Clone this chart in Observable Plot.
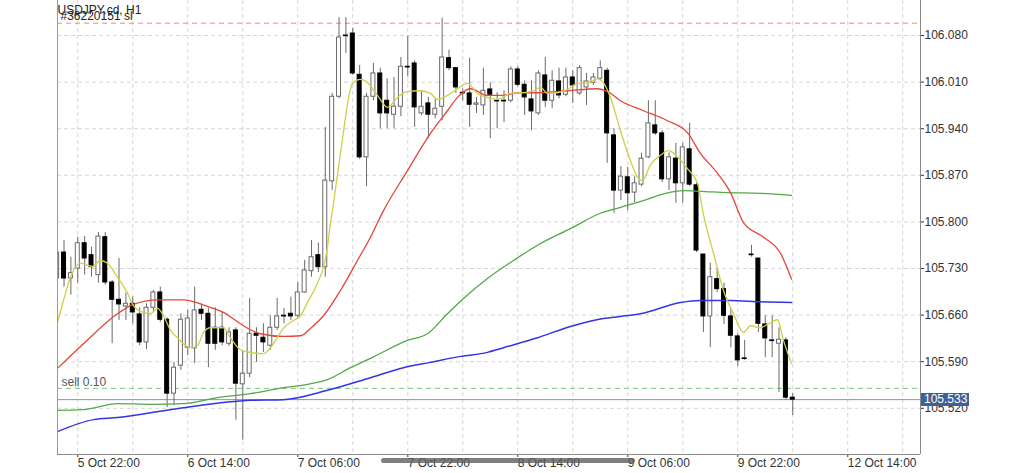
<!DOCTYPE html>
<html><head><meta charset="utf-8">
<script src="https://cdn.jsdelivr.net/npm/d3@7"></script>
<script src="https://cdn.jsdelivr.net/npm/@observablehq/plot@0.6"></script>
<style>
html,body{margin:0;padding:0;background:#fff;}
#wrap{position:relative;width:1024px;height:473px;overflow:hidden;font-family:"Liberation Sans",Arial,sans-serif;}
#wrap svg{position:absolute;left:0;top:0;}
.pricebox{position:absolute;background:#3f6196;color:#fff;font-size:12px;line-height:13px;height:13px;padding-left:3px;box-sizing:border-box;white-space:nowrap;}
.scroll{position:absolute;background:rgba(95,95,95,0.8);border-radius:3px;}
</style></head><body><div id="wrap"></div>
<script>
// ---- data (H1 bars; index 0 = 5 Oct 22:00) ----
const startIndex = -3;
const open = [
105.715,105.754,105.715,105.730,105.768,105.750,105.720,105.777,105.709,105.683,
105.673,105.677,105.661,105.619,105.671,105.694,105.653,105.542,105.584,105.611,
105.610,105.668,105.662,105.641,105.641,105.617,105.637,105.556,105.572,105.632,
105.626,105.614,105.641,105.659,105.662,105.659,105.694,105.726,105.750,105.732,
105.861,105.988,106.080,106.083,106.021,105.897,105.988,106.023,105.982,105.961,
105.973,106.033,106.038,105.963,105.978,105.961,105.973,106.046,106.031,105.994,
105.993,105.976,105.975,105.999,105.982,105.982,105.982,106.029,106.006,105.984,
105.963,106.020,105.982,106.011,105.991,106.017,105.993,106.002,106.009,106.015,
106.027,105.930,105.847,105.867,105.844,105.856,105.897,105.945,105.933,105.864,
105.895,105.858,105.909,105.855,105.751,105.658,105.714,105.699,105.658,105.628,
105.595,105.751,105.745,105.646,105.622,105.617,105.622,105.536];
const high = [
105.760,105.772,105.747,105.777,105.778,105.762,105.784,105.784,105.712,105.745,
105.693,105.687,105.671,105.677,105.697,105.702,105.656,105.589,105.662,105.667,
105.702,105.677,105.670,105.671,105.664,105.641,105.641,105.607,105.685,105.641,
105.647,105.659,105.685,105.670,105.687,105.709,105.742,105.772,105.768,105.942,
105.993,106.107,106.107,106.091,106.035,105.993,106.038,106.031,106.015,106.017,
106.047,106.079,106.042,105.997,105.987,105.985,106.106,106.058,106.031,106.000,
106.046,105.987,106.031,106.009,105.994,105.997,106.033,106.033,106.012,106.012,
106.027,106.047,106.027,106.031,106.031,106.027,106.035,106.023,106.023,106.042,
106.031,105.940,105.883,105.882,105.868,105.903,105.982,105.982,105.937,105.904,
105.918,105.918,105.948,105.858,105.751,105.738,105.730,105.708,105.670,105.632,
105.622,105.765,105.745,105.659,105.659,105.641,105.626,105.542];
const low = [
105.709,105.702,105.690,105.708,105.720,105.717,105.708,105.705,105.617,105.652,
105.652,105.647,105.614,105.608,105.664,105.649,105.521,105.524,105.577,105.599,
105.587,105.652,105.581,105.607,105.614,105.613,105.502,105.472,105.566,105.589,
105.604,105.607,105.637,105.647,105.652,105.656,105.693,105.717,105.724,105.717,
105.847,105.985,106.053,106.020,105.894,105.853,105.982,105.940,105.940,105.940,
105.958,106.018,105.942,105.960,105.925,105.955,105.952,106.027,105.993,105.982,
105.942,105.963,105.960,105.925,105.940,105.949,105.979,106.003,105.960,105.937,
105.960,105.972,105.970,105.985,105.988,105.978,105.990,105.975,106.005,106.012,
105.888,105.813,105.832,105.817,105.829,105.853,105.895,105.930,105.859,105.847,
105.828,105.828,105.853,105.754,105.634,105.611,105.694,105.646,105.611,105.583,
105.592,105.747,105.634,105.596,105.596,105.544,105.532,105.509];
const close = [
105.754,105.715,105.723,105.768,105.745,105.732,105.778,105.709,105.683,105.676,
105.677,105.664,105.619,105.671,105.694,105.653,105.542,105.581,105.653,105.655,
105.667,105.662,105.617,105.617,105.619,105.634,105.557,105.572,105.632,105.629,
105.619,105.641,105.658,105.658,105.658,105.694,105.727,105.747,105.732,105.862,
105.988,106.077,106.079,106.023,105.897,105.988,106.023,105.963,105.963,105.973,
106.033,106.032,105.972,105.973,105.961,105.970,106.047,106.031,106.002,105.993,
105.976,105.978,105.997,105.991,105.981,105.981,106.029,106.006,105.987,105.966,
106.023,105.982,106.012,105.990,106.017,106.005,106.031,106.011,106.017,106.031,
105.933,105.847,105.868,105.843,105.858,105.895,105.948,105.933,105.864,105.897,
105.858,105.912,105.856,105.757,105.658,105.717,105.699,105.659,105.629,105.592,
105.594,105.750,105.647,105.625,105.621,105.623,105.536,105.533];

// moving averages: [bar index, price]
const maYellow = [[-2.95,105.649],[-2.08,105.682],[-1.06,105.717],[0.39,105.738],[1.41,105.735],[2.14,105.733],[3.3,105.742],[4.32,105.738],[5.77,105.717],[7.23,105.693],[8.1,105.674],[9.56,105.664],[10.57,105.662],[11.59,105.670],[12.47,105.659],[13.49,105.637],[14.5,105.626],[15.38,105.617],[16.39,105.611],[17.41,105.614],[18.28,105.634],[19.3,105.641],[21.19,105.641],[22.2,105.626],[23.66,105.608],[25.11,105.604],[27.0,105.602],[28.46,105.617],[29.92,105.640],[31.37,105.652],[32.39,105.659],[33.41,105.679],[34.86,105.708],[35.74,105.732],[36.32,105.762],[36.61,105.787],[37.05,105.817],[38.21,105.903],[39.96,106.008],[41.12,106.014],[42.14,106.009],[43.59,105.990],[45.05,105.972],[46.5,105.987],[47.96,105.996],[49.85,105.997],[51.3,105.993],[52.32,105.984],[53.77,105.990],[55.23,106.000],[56.68,106.008],[58.14,105.993],[59.59,105.987],[61.05,105.984],[62.94,105.993],[64.39,105.994],[66.28,105.997],[67.3,106.002],[68.32,105.993],[69.77,105.994],[71.23,105.999],[72.68,106.008],[74.14,106.009],[75.59,106.015],[76.47,106.009],[77.48,105.987],[78.94,105.937],[80.39,105.892],[81.56,105.865],[82.14,105.862],[83.3,105.886],[84.76,105.900],[85.92,105.907],[87.23,105.898],[88.68,105.880],[90.14,105.858],[91.01,105.811],[92.47,105.753],[93.92,105.697],[95.38,105.662],[96.83,105.634],[97.85,105.644],[99.3,105.641],[100.32,105.646],[101.78,105.653],[102.65,105.622],[103.82,105.587]];
const maRed = [[-2.95,105.580],[0.83,105.617],[5.77,105.662],[8.1,105.676],[11.59,105.683],[15.38,105.683],[18.87,105.673],[21.19,105.664],[23.66,105.647],[25.11,105.638],[26.57,105.632],[29.92,105.628],[32.39,105.629],[33.84,105.640],[35.74,105.659],[38.21,105.697],[40.68,105.742],[42.57,105.777],[44.47,105.817],[47.96,105.877],[51.3,105.933],[53.77,105.967],[55.23,105.987],[57.12,106.000],[59.59,105.990],[61.48,105.990],[64.39,105.994],[66.28,105.994],[71.23,105.997],[75.59,106.000],[77.04,105.996],[78.94,105.982],[82.28,105.967],[85.77,105.952],[88.68,105.934],[90.57,105.903],[93.05,105.873],[94.94,105.844],[96.83,105.799],[99.74,105.777],[102.21,105.753],[103.82,105.714]];
const maGreen = [[-2.95,105.517],[0.83,105.518],[5.77,105.527],[10.57,105.526],[15.38,105.527],[20.32,105.536],[25.11,105.542],[29.92,105.551],[33.41,105.556],[36.32,105.563],[39.67,105.581],[42.57,105.595],[47.96,105.622],[50.87,105.632],[53.77,105.662],[56.1,105.685],[59.59,105.715],[63.38,105.742],[66.87,105.765],[71.67,105.790],[76.03,105.813],[78.94,105.822],[82.28,105.832],[85.48,105.843],[88.07,105.847],[90.57,105.846],[94.5,105.844],[99.3,105.843],[103.82,105.840]];
const maBlue = [[-2.95,105.485],[2.3,105.503],[5.77,105.506],[15.38,105.521],[25.11,105.532],[29.92,105.533],[36.32,105.547],[42.57,105.566],[47.38,105.581],[51.3,105.589],[55.67,105.598],[59.59,105.604],[61.92,105.611],[66.87,105.626],[71.67,105.643],[76.47,105.655],[78.94,105.658],[81.85,105.662],[87.67,105.679],[90.57,105.682],[94.94,105.682],[99.3,105.680],[103.82,105.679]];

const yTicks = [105.520,105.590,105.660,105.730,105.800,105.870,105.940,106.010,106.080];
const gridIdx = [0,8,16,24,32,40,48,56,64,72,80,88,96,104,112,120];
const labelIdx = [0,16,32,48,64,80,96,112];
const timeLabels = ["5 Oct 22:00","6 Oct 14:00","7 Oct 06:00","7 Oct 22:00","8 Oct 14:00","9 Oct 06:00","9 Oct 22:00","12 Oct 14:00"];
const slPrice = 106.0985, sellPrice = 105.550, bidPrice = 105.533;
const symbolTitle = "USDJPY.cd, H1", orderTitle = "#36220151 sl", sellText = "sell 0.10";

// ---- build ----
const candles = open.map((o, j) => ({i: startIndex + j, open: o, high: high[j], low: low[j], close: close[j]}));
const toPts = a => a.map(([i, v]) => ({i, v}));
const xLabels = labelIdx.map((i, j) => ({i, label: timeLabels[j]}));
const xDomain = [-2.95, 122.58];
const yDomain = [105.4506, 106.1326];
const up = d => d.close >= d.open;

const chart = Plot.plot({
  width: 1024, height: 473,
  marginLeft: 57, marginRight: 104, marginTop: 0, marginBottom: 19,
  style: {fontFamily: "Liberation Sans, Arial, sans-serif", fontSize: "12px", color: "#333", background: "#fff", overflow: "visible"},
  x: {type: "linear", domain: xDomain, axis: "bottom", ticks: labelIdx, tickFormat: () => "", tickSize: 3, label: null},
  y: {domain: yDomain, axis: "right", ticks: yTicks, tickFormat: d3.format(".3f"), tickSize: 3, tickPadding: 1, label: null},
  marks: [
    Plot.ruleY(yTicks, {stroke: "#d6d6d6", strokeDasharray: "4,3"}),
    Plot.ruleX(gridIdx, {stroke: "#d6d6d6", strokeDasharray: "4,3"}),
    Plot.ruleY([slPrice], {stroke: "#f28b68", strokeDasharray: "5,4"}),
    Plot.ruleY([sellPrice], {stroke: "#7cc47c", strokeDasharray: "5,4"}),
    Plot.ruleY([bidPrice], {stroke: "#8092b6"}),
    Plot.ruleX(candles, {x: "i", y1: "low", y2: "high", stroke: "#6a6a6a", clip: true}),
    Plot.rect(candles, {x1: d => d.i - 0.29, x2: d => d.i + 0.29, y1: "open", y2: "close",
      fill: d => up(d) ? "#fff" : "#000", stroke: d => up(d) ? "#6a6a6a" : "#000", clip: true}),
    Plot.line(toPts(maBlue), {x: "i", y: "v", stroke: "#3434e6", strokeWidth: 1.5, curve: "monotone-x", clip: true}),
    Plot.line(toPts(maGreen), {x: "i", y: "v", stroke: "#52a948", strokeWidth: 1.3, curve: "monotone-x", clip: true}),
    Plot.line(toPts(maRed), {x: "i", y: "v", stroke: "#e2463a", strokeWidth: 1.3, curve: "monotone-x", clip: true}),
    Plot.line(toPts(maYellow), {x: "i", y: "v", stroke: "#cfcf48", strokeWidth: 1.3, curve: "monotone-x", clip: true}),
    Plot.text([sellText], {x: xDomain[0], y: sellPrice, dx: 4, dy: -2, lineAnchor: "bottom", textAnchor: "start", fill: "#555"}),
    Plot.text([symbolTitle], {frameAnchor: "top-left", dx: 0, dy: 5, lineAnchor: "top", textAnchor: "start", fill: "#222"}),
    Plot.text([orderTitle], {frameAnchor: "top-left", dx: 3, dy: 11, lineAnchor: "top", textAnchor: "start", fill: "#222"}),
    Plot.text(xLabels, {x: "i", text: "label", frameAnchor: "bottom", lineAnchor: "top", dy: 4, textAnchor: "start", fill: "#333"}),
    Plot.ruleX([xDomain[0]], {stroke: "#9a9a9a"}),
    Plot.ruleX([xDomain[1]], {stroke: "#8a8a8a"}),
    Plot.ruleY([yDomain[0]], {stroke: "#8a8a8a"})
  ]
});
const wrap = document.getElementById("wrap");
wrap.appendChild(chart);

// current price tag on the right axis
const yb = chart.scale("y").apply(bidPrice);
const xr = chart.scale("x").apply(xDomain[1]);
const tag = document.createElement("div");
tag.className = "pricebox";
tag.textContent = d3.format(".3f")(bidPrice);
tag.style.left = (xr + 1) + "px";
tag.style.top = (yb - 6.5) + "px";
tag.style.width = "48px";
wrap.appendChild(tag);

// horizontal scroll bar of the chart window
const sb = document.createElement("div");
sb.className = "scroll";
sb.style.left = "381px"; sb.style.top = "458px"; sb.style.width = "254px"; sb.style.height = "5px";
wrap.appendChild(sb);
</script>
</body></html>
